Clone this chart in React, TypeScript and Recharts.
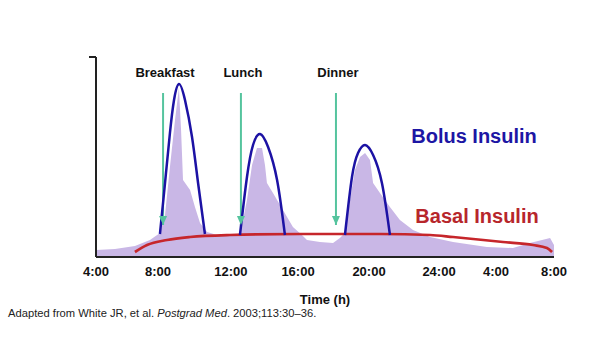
import React from 'react';
import { ComposedChart, Area, Line, XAxis, YAxis } from 'recharts';

const FONT = '"Liberation Sans", Arial, Helvetica, sans-serif';

// X-axis tick positions (hours on the schematic time scale) and their labels
const tickHours = [4, 7.79, 12.25, 16.35, 20.69, 24.97, 28.45, 32];
const tickLabels = ['4:00', '8:00', '12:00', '16:00', '20:00', '24:00', '4:00', '8:00'];

// Physiological insulin profile (purple area)
const profileHours = [4.0, 5.16, 6.38, 7.3, 7.91, 8.22, 8.52, 8.83, 9.07, 9.2, 9.32, 9.75, 10.05, 10.36, 10.79, 11.4, 12.19, 12.8, 13.23, 13.54, 13.84, 14.15, 14.33, 14.45, 14.82, 15.43, 16.04, 16.59, 16.9, 17.69, 18.49, 18.91, 19.22, 19.53, 19.83, 20.14, 20.45, 20.75, 20.94, 21.36, 21.97, 22.58, 23.38, 24.42, 25.83, 27.9, 29.49, 30.53, 31.76, 32.0];
const profileLevels = [3.5, 4, 5.5, 8.5, 12, 21, 45, 68.5, 84.5, 63.5, 38.5, 33.5, 25, 17, 12.5, 11, 10.5, 11, 28.5, 46, 54.5, 54.5, 46, 37, 32, 23.5, 15, 11, 8.5, 7.5, 7, 9.5, 12, 28.5, 43.5, 50, 52, 48.5, 37, 32, 25, 18.5, 13.5, 10, 7.5, 5, 4.5, 7, 9.5, 6];

// Bolus insulin arcs
const breakfastHours = [7.91, 8.22, 8.52, 8.77, 9.07, 9.44, 9.87, 10.24, 10.66];
const breakfastLevels = [11.5, 37, 62, 78.5, 86.5, 78.5, 60, 37, 11.5];
const lunchHours = [12.8, 13.23, 13.6, 14.03, 14.52, 15.07, 15.55];
const lunchLevels = [11, 40, 56, 61.5, 55, 38.5, 11];
const dinnerHours = [19.22, 19.65, 20.02, 20.45, 20.94, 21.48, 21.97];
const dinnerLevels = [11, 40, 52, 56, 51, 37, 11];

// Basal insulin
const basalHours = [6.38, 7.12, 8.34, 9.75, 12.19, 16.47, 21.36, 24.42, 25.83, 28.88, 30.72, 31.57, 31.88];
const basalLevels = [2.5, 6, 8.5, 10, 11, 11.5, 11.5, 11, 10, 7.5, 6, 4.5, 2.5];

// Meal arrows
const meals = ['Breakfast', 'Lunch', 'Dinner'];
const mealHours = [8.1, 12.86, 18.67];
const arrowTop = 82;
const arrowTip = 16;

const zip = (hs: number[], vs: number[]) => hs.map((h, i) => ({ h, v: vs[i] }));

const profileData = zip(profileHours, profileLevels);
const breakfastData = zip(breakfastHours, breakfastLevels);
const lunchData = zip(lunchHours, lunchLevels);
const dinnerData = zip(dinnerHours, dinnerLevels);
const basalData = zip(basalHours, basalLevels);
const arrowData = meals.map((meal, i) => [
  { h: mealHours[i], v: arrowTop, meal },
  { h: mealHours[i], v: arrowTip, meal: '' },
]);

const ARROW = '#55c49e';
const BLUE = '#1c12a4';
const RED = '#c6262b';

const arrowDot = (props: any) => {
  const { cx, cy, index, payload } = props;
  if (index === 0) {
    return (
      <text
        key={`lbl-${payload.meal}`}
        x={cx + 2}
        y={cy - 16}
        textAnchor="middle"
        fontFamily={FONT}
        fontWeight="bold"
        fontSize={13}
        fill="#111"
      >
        {payload.meal}
      </text>
    );
  }
  return (
    <path
      key={`head-${cx}`}
      d={`M${cx - 4},${cy - 9} L${cx + 4},${cy - 9} L${cx},${cy} Z`}
      fill={ARROW}
    />
  );
};

export default function App() {
  return (
    <div style={{ position: 'absolute', left: 0, top: 0, width: 600, height: 353, background: '#fff' }}>
      <ComposedChart width={600} height={353} margin={{ top: 57, right: 46, bottom: 66, left: 76 }}>
        <XAxis
          type="number"
          dataKey="h"
          domain={[4, 32]}
          ticks={tickHours}
          interval={0}
          allowDataOverflow
          tickFormatter={(v: number) => tickLabels[tickHours.indexOf(v)]}
          tickLine={false}
          tickSize={0}
          tickMargin={10}
          height={30}
          axisLine={{ stroke: '#222', strokeWidth: 2 }}
          tick={{ fontSize: 13, fontWeight: 'bold', fill: '#111', fontFamily: FONT }}
          label={{
            value: 'Time (h)',
            position: 'bottom',
            offset: 8,
            style: { fontSize: 13, fontWeight: 'bold', fill: '#111', fontFamily: FONT },
          }}
        />
        <YAxis
          type="number"
          domain={[0, 100]}
          ticks={[100]}
          width={20}
          tickSize={7}
          tickFormatter={() => ''}
          tickLine={{ stroke: '#222', strokeWidth: 2 }}
          axisLine={{ stroke: '#222', strokeWidth: 2 }}
        />
        <Area
          data={profileData}
          dataKey="v"
          type="linear"
          fill="#c9b7e6"
          fillOpacity={1}
          stroke="none"
          baseValue={0}
          isAnimationActive={false}
        />
        {arrowData.map((d, i) => (
          <Line
            key={`arrow-${i}`}
            data={d}
            dataKey="v"
            type="linear"
            stroke={ARROW}
            strokeWidth={2}
            dot={arrowDot}
            activeDot={false}
            isAnimationActive={false}
          />
        ))}
        <Line
          data={basalData}
          dataKey="v"
          type="monotone"
          stroke={RED}
          strokeWidth={2.7}
          dot={false}
          isAnimationActive={false}
        />
        <Line data={breakfastData} dataKey="v" type="natural" stroke={BLUE} strokeWidth={2.5} dot={false} isAnimationActive={false} />
        <Line data={lunchData} dataKey="v" type="natural" stroke={BLUE} strokeWidth={2.5} dot={false} isAnimationActive={false} />
        <Line data={dinnerData} dataKey="v" type="natural" stroke={BLUE} strokeWidth={2.5} dot={false} isAnimationActive={false} />
      </ComposedChart>
      <svg
        width={600}
        height={353}
        style={{ position: 'absolute', left: 0, top: 0, pointerEvents: 'none' }}
      >
        <text x={474} y={143} textAnchor="middle" fontFamily={FONT} fontWeight="bold" fontSize={20} fill="#1d16a4">
          Bolus Insulin
        </text>
        <text x={477} y={223} textAnchor="middle" fontFamily={FONT} fontWeight="bold" fontSize={20} fill="#b7262b">
          Basal Insulin
        </text>
        <text x={8} y={317} fontFamily={FONT} fontSize={11.2} fill="#222">
          Adapted from White JR, et al. <tspan fontStyle="italic">Postgrad Med</tspan>. 2003;113:30–36.
        </text>
      </svg>
    </div>
  );
}
